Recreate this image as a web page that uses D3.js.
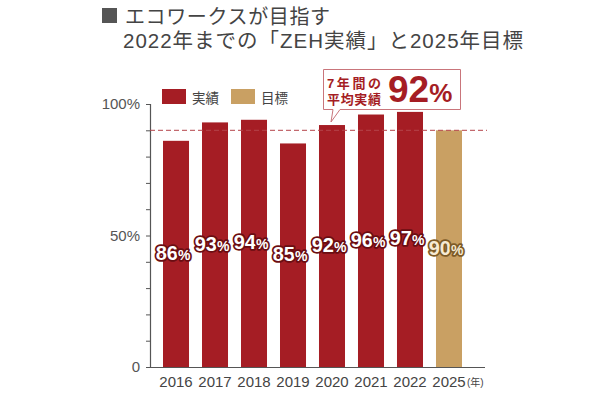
<html>
<head>
<meta charset="utf-8">
<script src="https://d3js.org/d3.v7.min.js"></script>
<style>
  body { margin: 0; background: #fff; }
  text { font-family: "Liberation Sans", "Noto Sans CJK JP", sans-serif; }
</style>
</head>
<body>
<div id="chart"></div>
<script>
// data
const years = ["2016", "2017", "2018", "2019", "2020", "2021", "2022", "2025"];
const values = [86, 93, 94, 85, 92, 96, 97, 90];
const kinds = ["実績", "実績", "実績", "実績", "実績", "実績", "実績", "目標"];
const yTicks = [0, 50, 100];
const targetLine = 90;
const average = 92;

const W = 590, H = 397;
const red = "#a51d24", tan = "#c9a063";

const svg = d3.select("#chart").append("svg")
  .attr("width", W).attr("height", H);

// title
svg.append("rect").attr("x", 102).attr("y", 8).attr("width", 15).attr("height", 15).attr("fill", "#555");
svg.append("text").attr("x", 125).attr("y", 24).attr("font-size", 20).attr("fill", "#444")
  .attr("textLength", 205).attr("lengthAdjust", "spacing")
  .text("エコワークスが目指す");
svg.append("text").attr("x", 123).attr("y", 48).attr("font-size", 20.5).attr("fill", "#444")
  .attr("textLength", 400).attr("lengthAdjust", "spacing")
  .text("2022年までの「ZEH実績」と2025年目標");

// scales
const x = d3.scaleBand().domain(years).range([163, 462]).paddingInner(0.333).paddingOuter(0);
const y = d3.scaleLinear().domain([0, 100]).range([367, 104]);

// y axis with minor ticks
const g = svg.append("g");
g.append("line").attr("x1", 150.5).attr("x2", 150.5).attr("y1", y(100)).attr("y2", y(0))
  .attr("stroke", "#555").attr("stroke-width", 1.2);
g.selectAll(".tk").data(d3.range(0, 101, 10)).join("line")
  .attr("x1", 146).attr("x2", 150.5)
  .attr("y1", d => y(d) + 0.5).attr("y2", d => y(d) + 0.5)
  .attr("stroke", "#555");
g.selectAll(".yl").data(yTicks).join("text")
  .attr("x", 140).attr("y", d => y(d) + 5)
  .attr("text-anchor", "end").attr("font-size", 15).attr("fill", "#555")
  .text(d => d === 0 ? "0" : d + "%");

// bars
svg.selectAll(".bar").data(values).join("rect")
  .attr("x", (d, i) => x(years[i]))
  .attr("width", x.bandwidth())
  .attr("y", d => y(d))
  .attr("height", d => y(0) - y(d))
  .attr("fill", (d, i) => kinds[i] === "目標" ? tan : red);

// x axis
svg.append("line").attr("x1", 150).attr("x2", 485).attr("y1", y(0) + 0.5).attr("y2", y(0) + 0.5)
  .attr("stroke", "#555").attr("stroke-width", 1.2);
svg.selectAll(".xl").data(years).join("text")
  .attr("x", d => x(d) + x.bandwidth() / 2).attr("y", 387)
  .attr("text-anchor", "middle").attr("font-size", 15).attr("fill", "#444")
  .text(d => d);
svg.append("text").attr("x", 467).attr("y", 386).attr("font-size", 10).attr("fill", "#444").text("(年)");

// dashed target line
svg.append("line").attr("x1", 150).attr("x2", 487).attr("y1", y(targetLine)).attr("y2", y(targetLine))
  .attr("stroke", "#b5444a").attr("stroke-width", 1).attr("stroke-dasharray", "5,3");

// value labels
const lab = svg.selectAll(".vl").data(values).join("text")
  .attr("x", (d, i) => x(years[i]) + x.bandwidth() / 2 - 3)
  .attr("y", d => y(d / 2) + 6)
  .attr("text-anchor", "middle")
  .attr("font-weight", "bold")
  .attr("paint-order", "stroke")
  .attr("stroke-width", 3.5)
  .attr("stroke-linejoin", "round")
  .attr("stroke", (d, i) => kinds[i] === "目標" ? "#7d5a26" : "#6b0d12")
  .attr("fill", (d, i) => kinds[i] === "目標" ? "#f6ead2" : "#fff");
lab.append("tspan").attr("font-size", 20).text(d => d);
lab.append("tspan").attr("font-size", 14).text("%");

// legend
const legend = [["実績", red, 162], ["目標", tan, 231]];
legend.forEach(l => {
  svg.append("rect").attr("x", l[2]).attr("y", 89).attr("width", 24).attr("height", 15).attr("fill", l[1]);
  svg.append("text").attr("x", l[2] + 30).attr("y", 103).attr("font-size", 13.5).attr("fill", "#444").text(l[0]);
});

// callout
const cb = svg.append("g");
cb.append("path")
  .attr("d", "M323.5,69.5 H460.5 V109.5 H340 L331,122 L333,109.5 H323.5 Z")
  .attr("fill", "#fff").attr("stroke", "#c9757b").attr("stroke-width", 1);
cb.append("text").attr("x", 327).attr("y", 88).attr("font-size", 13).attr("font-weight", "bold")
  .attr("fill", red).attr("textLength", 54).attr("lengthAdjust", "spacing").text("7年間の");
cb.append("text").attr("x", 327).attr("y", 104).attr("font-size", 13).attr("font-weight", "bold")
  .attr("fill", red).attr("textLength", 54).attr("lengthAdjust", "spacing").text("平均実績");
const big = cb.append("text").attr("x", 388).attr("y", 102).attr("font-weight", "bold")
  .attr("fill", red);
big.append("tspan").attr("font-size", 37).text(average);
big.append("tspan").attr("font-size", 26).text("%");
</script>
</body>
</html>
